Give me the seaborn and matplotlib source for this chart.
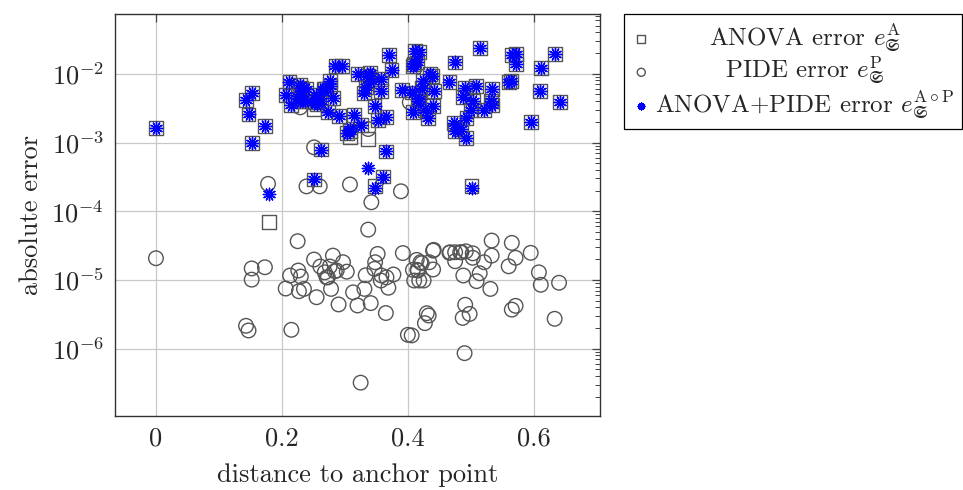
import matplotlib
matplotlib.use("Agg")
import matplotlib.pyplot as plt
import seaborn as sns
import numpy as np

# ---------------- data ----------------
anova_x = [0.000, 0.152, 0.143, 0.147, 0.173, 0.152, 0.180, 0.212, 0.206, 0.229,
           0.231, 0.239, 0.214, 0.226, 0.229, 0.237, 0.251, 0.254, 0.252, 0.262,
           0.256, 0.276, 0.276, 0.269, 0.281, 0.273, 0.290, 0.285, 0.295, 0.320,
           0.340, 0.337, 0.342, 0.333, 0.331, 0.357, 0.357, 0.347, 0.352, 0.366,
           0.314, 0.325, 0.304, 0.308, 0.308, 0.337, 0.262, 0.365, 0.360, 0.251,
           0.348, 0.501, 0.411, 0.417, 0.410, 0.414, 0.514, 0.475, 0.565, 0.571,
           0.571, 0.633, 0.611, 0.560, 0.563, 0.610, 0.641, 0.595, 0.435, 0.439,
           0.424, 0.422, 0.406, 0.442, 0.416, 0.408, 0.427, 0.440, 0.432, 0.466,
           0.490, 0.508, 0.533, 0.488, 0.504, 0.532, 0.534, 0.500, 0.521, 0.493,
           0.473, 0.475, 0.485, 0.492, 0.370, 0.374, 0.408, 0.390, 0.418, 0.266,
           0.231]
anova_err = [1.63e-3, 5.3e-3, 4.2e-3, 2.56e-3, 1.75e-3, 9.9e-4, 6.9e-5, 7.7e-3, 4.95e-3, 6.9e-3,
             6.3e-3, 6.1e-3, 3.5e-3, 4.8e-3, 4.05e-3, 4.0e-3, 3.07e-3, 4.95e-3, 3.9e-3, 4.05e-3,
             3.6e-3, 7.9e-3, 6.7e-3, 6.0e-3, 4.5e-3, 2.74e-3, 2.45e-3, 1.28e-2, 1.28e-2, 9.9e-3,
             1.04e-2, 9.35e-3, 7.9e-3, 6.5e-3, 5.2e-3, 8.4e-3, 5.67e-3, 3.43e-3, 2.14e-3, 2.32e-3,
             2.5e-3, 1.79e-3, 1.38e-3, 1.49e-3, 1.19e-3, 1.12e-3, 7.9e-4, 7.4e-4, 3.2e-4, 2.9e-4,
             2.3e-4, 2.35e-4, 2.16e-2, 2.09e-2, 1.38e-2, 1.46e-2, 2.37e-2, 1.46e-2, 1.87e-2, 1.93e-2,
             1.38e-2, 1.93e-2, 1.21e-2, 7.5e-3, 7.9e-3, 5.67e-3, 3.83e-3, 1.96e-3, 9.9e-3, 9.35e-3,
             7.9e-3, 6.3e-3, 5.35e-3, 5.67e-3, 4.05e-3, 2.81e-3, 3.0e-3, 3.35e-3, 2.24e-3, 7.5e-3,
             6.3e-3, 6.7e-3, 6.0e-3, 4.53e-3, 4.05e-3, 4.05e-3, 3.5e-3, 3.0e-3, 2.97e-3, 2.24e-3,
             1.92e-3, 1.49e-3, 1.57e-3, 1.15e-3, 1.87e-2, 1.14e-2, 1.31e-2, 5.8e-3, 4.3e-3, 6.0e-3,
             4.3e-3]

pide_x = [0.251, 0.337, 0.229, 0.403, 0.178, 0.239, 0.260, 0.308, 0.342, 0.389,
          0.337, 0.000, 0.225, 0.152, 0.152, 0.173, 0.143, 0.147, 0.215, 0.206,
          0.213, 0.226, 0.230, 0.227, 0.235, 0.251, 0.261, 0.255, 0.268, 0.276,
          0.273, 0.281, 0.278, 0.290, 0.287, 0.297, 0.271, 0.284, 0.303, 0.333,
          0.352, 0.348, 0.347, 0.358, 0.366, 0.377, 0.357, 0.392, 0.313, 0.331,
          0.320, 0.341, 0.369, 0.365, 0.400, 0.325, 0.414, 0.408, 0.420, 0.422,
          0.434, 0.440, 0.441, 0.440, 0.410, 0.418, 0.425, 0.415, 0.416, 0.406,
          0.430, 0.433, 0.427, 0.466, 0.475, 0.475, 0.485, 0.492, 0.503, 0.503,
          0.488, 0.509, 0.514, 0.521, 0.533, 0.533, 0.531, 0.491, 0.498, 0.487,
          0.490, 0.565, 0.571, 0.560, 0.595, 0.608, 0.611, 0.640, 0.565, 0.571,
          0.633, 0.483, 0.467]
pide_err = [8.5e-4, 1.57e-3, 3.25e-3, 3.85e-3, 2.5e-4, 2.3e-4, 2.3e-4, 2.45e-4, 1.35e-4, 1.95e-4,
            5.4e-5, 2.07e-5, 3.66e-5, 1.47e-5, 1.01e-5, 1.53e-5, 2.15e-6, 1.84e-6, 1.88e-6, 7.5e-6,
            1.16e-5, 1.37e-5, 1.12e-5, 6.85e-6, 7.4e-6, 1.98e-5, 1.57e-5, 5.6e-6, 1.29e-5, 1.57e-5,
            1.09e-5, 2.26e-5, 7.4e-6, 4.4e-6, 1.37e-5, 1.81e-5, 1.09e-5, 1.34e-5, 1.32e-5, 1.17e-5,
            2.39e-5, 1.81e-5, 1.45e-5, 1.16e-5, 1.09e-5, 1.20e-5, 9.8e-6, 2.46e-5, 6.6e-6, 7.4e-6,
            4.25e-6, 4.6e-6, 7.7e-6, 3.3e-6, 1.59e-6, 3.2e-7, 1.96e-5, 1.40e-5, 1.81e-5, 1.75e-5,
            1.81e-5, 2.67e-5, 2.74e-5, 1.42e-5, 9.8e-6, 9.8e-6, 9.8e-6, 1.40e-5, 1.37e-5, 1.56e-6,
            3.28e-6, 3.04e-6, 2.35e-6, 2.48e-5, 2.53e-5, 1.87e-5, 2.53e-5, 2.61e-5, 2.44e-5, 2.10e-5,
            1.16e-5, 9.6e-6, 1.25e-5, 1.81e-5, 3.74e-5, 2.26e-5, 7.4e-6, 4.35e-6, 3.2e-6, 2.8e-6,
            8.6e-7, 3.46e-5, 2.10e-5, 1.58e-5, 2.48e-5, 1.29e-5, 8.5e-6, 9.1e-6, 3.7e-6, 4.2e-6,
            2.72e-6, 2.53e-5, 2.53e-5]

comb_x = anova_x
comb_err = [1.63e-3, 5.3e-3, 4.2e-3, 2.56e-3, 1.75e-3, 9.9e-4, 1.78e-4, 7.7e-3, 4.95e-3, 6.9e-3,
            6.3e-3, 6.1e-3, 3.5e-3, 4.8e-3, 4.05e-3, 4.0e-3, 3.9e-3, 4.95e-3, 3.9e-3, 4.05e-3,
            3.6e-3, 7.9e-3, 6.7e-3, 6.0e-3, 4.5e-3, 2.74e-3, 2.45e-3, 1.28e-2, 1.28e-2, 9.9e-3,
            1.04e-2, 9.35e-3, 7.9e-3, 6.5e-3, 5.2e-3, 8.4e-3, 5.67e-3, 3.43e-3, 2.14e-3, 2.32e-3,
            2.5e-3, 1.79e-3, 1.38e-3, 1.49e-3, 1.55e-3, 4.3e-4, 7.9e-4, 7.4e-4, 3.2e-4, 2.9e-4,
            2.2e-4, 2.2e-4, 2.16e-2, 2.09e-2, 1.38e-2, 1.46e-2, 2.37e-2, 1.46e-2, 1.87e-2, 1.93e-2,
            1.38e-2, 1.93e-2, 1.21e-2, 7.5e-3, 7.9e-3, 5.67e-3, 3.83e-3, 1.96e-3, 9.9e-3, 9.35e-3,
            7.9e-3, 6.3e-3, 5.35e-3, 5.67e-3, 4.05e-3, 2.81e-3, 3.0e-3, 3.35e-3, 2.24e-3, 7.5e-3,
            6.3e-3, 6.7e-3, 6.0e-3, 4.53e-3, 4.05e-3, 4.05e-3, 3.5e-3, 3.0e-3, 2.97e-3, 2.24e-3,
            1.92e-3, 1.49e-3, 1.57e-3, 1.15e-3, 1.87e-2, 1.14e-2, 1.31e-2, 5.8e-3, 4.3e-3, 6.0e-3,
            4.3e-3]

labels = [r"ANOVA error $e_{\mathfrak{S}}^{\mathrm{A}}$",
          r"PIDE error $e_{\mathfrak{S}}^{\mathrm{P}}$",
          r"ANOVA+PIDE error $e_{\mathfrak{S}}^{\mathrm{A}\circ\mathrm{P}}$"]
xticks = [0, 0.2, 0.4, 0.6]
xtick_labels = ["0", "0.2", "0.4", "0.6"]

# ---------------- style ----------------
sns.set_style("white")
plt.rcParams["font.family"] = ["cmr10"]
plt.rcParams["mathtext.fontset"] = "cm"
plt.rcParams["axes.formatter.use_mathtext"] = True
plt.rcParams["font.size"] = 19

fig = plt.figure(figsize=(9.63, 4.9), dpi=100)
ax = fig.add_axes([115 / 963, 1 - 416 / 490, 485 / 963, 402 / 490])

gray = "#555555"
sns.scatterplot(x=anova_x, y=anova_err, ax=ax, marker="s", s=100,
                facecolor="none", edgecolor=gray, linewidth=1.0, zorder=3)
sns.scatterplot(x=pide_x, y=pide_err, ax=ax, marker="o", s=110,
                facecolor="none", edgecolor=gray, linewidth=1.0, zorder=4)
sns.scatterplot(x=comb_x, y=comb_err, ax=ax, marker=(12, 2, 0), s=80,
                color="#0000ff", edgecolor="#0000ff", linewidth=1.0, zorder=5)

ax.set_yscale("log")
ax.set_xlim(-0.065, 0.705)
ax.set_ylim(10 ** -6.98, 10 ** -1.13)
ax.set_xticks(xticks)
ax.set_xticklabels(xtick_labels)
ax.set_yticks([1e-6, 1e-5, 1e-4, 1e-3, 1e-2])
ax.yaxis.set_minor_locator(matplotlib.ticker.LogLocator(base=10, subs=np.arange(2, 10) * 1.0, numticks=20))
ax.yaxis.set_minor_formatter(matplotlib.ticker.NullFormatter())

ax.grid(True, which="major", color="#c8c8c8", linewidth=0.9)
ax.set_axisbelow(True)
ax.tick_params(which="both", direction="in", top=True, right=True, color="#444444")
ax.tick_params(which="major", length=6, width=0.9, pad=8)
ax.tick_params(which="minor", length=3.5, width=0.7)
for sp in ax.spines.values():
    sp.set_color("#333333")
    sp.set_linewidth(1.0)

ax.set_xlabel("distance to anchor point", labelpad=9)
ax.set_ylabel("absolute error", labelpad=6)

colls = ax.collections
leg = ax.legend(colls[:3], labels, loc="upper left", bbox_to_anchor=(1.049, 1.0),
                frameon=True, fancybox=False, edgecolor="black", framealpha=1,
                borderaxespad=0, markerscale=0.55, handletextpad=0.15,
                labelspacing=0.05, borderpad=0.3, handlelength=0.8, fontsize=18)
leg.get_frame().set_linewidth(0.9)

# centre the legend texts (markers stay left-aligned)
fig.canvas.draw()
renderer = fig.canvas.get_renderer()
widths = [t.get_window_extent(renderer).width for t in leg.get_texts()]
maxw = max(widths)
rows = [row for col in leg._legend_handle_box.get_children() for row in col.get_children()]
for row, w in zip(rows, widths):
    row.sep = row.sep + (maxw - w) / 2 * 72.0 / fig.dpi

fig.savefig("out.png", dpi=100)
